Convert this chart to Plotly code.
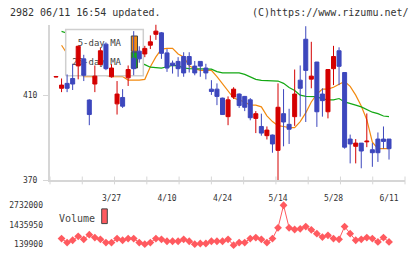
import plotly.graph_objects as go

W, H = 420, 259

# ---------------- data ----------------
tick_idx = [10, 20, 30, 40, 50, 60]
tick_labels = ["3/27", "4/10", "4/24", "5/14", "5/28", "6/11"]

opens = [418.5, 413.2, 415.5, 417.8, 423.7, 427.0, 407.7, 415.2, 424.4, 433.9,
         418.6, 405.9, 408.9, 418.1, 427.3, 430.6, 429.3, 433.4, 438.5, 439.2,
         429.8, 425.0, 425.8, 428.1, 428.1, 423.6, 425.8, 422.7, 412.8, 412.8,
         408.6, 399.9, 409.1, 410.5, 409.4, 407.8, 399.1, 395.3, 391.0, 391.3,
         384.1, 401.3, 396.3, 399.9, 417.0, 436.2, 417.5, 425.5, 410.5, 402.2,
         422.4, 430.8, 420.6, 389.4, 386.0, 387.5, 388.1, 384.4, 389.4, 389.4,
         389.4]
highs = [419.0, 417.8, 419.7, 424.7, 433.2, 428.9, 408.0, 423.9, 432.1, 434.7,
         424.5, 416.6, 412.8, 423.9, 440.0, 432.9, 433.1, 438.0, 443.1, 439.6,
         431.6, 426.2, 427.8, 430.1, 430.1, 426.0, 425.8, 424.7, 417.0, 415.5,
         408.8, 409.4, 413.7, 410.8, 409.6, 408.6, 402.5, 401.3, 395.3, 391.5,
         415.5, 412.8, 403.6, 422.0, 423.9, 442.3, 435.0, 425.6, 413.2, 422.2,
         433.1, 432.4, 420.6, 391.5, 389.4, 387.5, 401.4, 387.5, 392.5, 395.3,
         389.4]
lows = [418.3, 411.4, 411.4, 412.4, 417.4, 416.6, 395.9, 411.4, 423.8, 421.7,
        418.2, 400.9, 404.0, 414.3, 419.3, 425.2, 427.8, 431.6, 435.9, 427.0,
        420.9, 420.1, 418.6, 418.6, 420.6, 419.3, 418.6, 417.4, 410.1, 405.3,
        400.7, 395.9, 408.2, 404.0, 402.5, 398.2, 392.2, 391.0, 389.2, 383.0,
        369.5, 386.0, 387.1, 395.6, 399.9, 397.4, 413.2, 395.1, 399.9, 399.1,
        414.7, 414.7, 384.9, 378.0, 378.0, 375.7, 385.6, 376.4, 378.7, 384.9,
        379.8]
closes = [418.7, 414.7, 413.2, 415.2, 432.9, 419.3, 400.9, 418.9, 430.8, 422.4,
          422.7, 410.5, 404.8, 422.0, 422.4, 427.0, 431.9, 435.0, 440.0, 429.6,
          422.7, 423.9, 422.4, 420.4, 424.4, 420.4, 423.6, 420.4, 411.7, 409.4,
          400.9, 407.8, 412.8, 405.1, 404.3, 399.4, 401.3, 392.2, 393.6, 387.1,
          404.3, 397.4, 394.0, 410.5, 413.2, 421.6, 418.9, 402.2, 407.4, 422.0,
          428.1, 423.5, 385.6, 387.1, 387.5, 383.8, 388.4, 383.0, 383.0, 388.3,
          384.9]

ma5 = [None, 433.4, 429.3, 425.2, 421.5, 418.7, 418.7, 418.7, 420.6, 419.2,
       418.7, 418.7, 418.7, 417.0, 417.0, 417.0, 417.4, 423.3, 427.9, 431.6,
       431.9, 431.9, 429.3, 427.9, 423.8, 422.4, 421.6, 421.6, 421.6, 418.7,
       415.5, 412.3, 408.6, 407.7, 406.8, 405.3, 405.3, 404.5, 400.3, 397.6,
       395.7, 395.3, 394.8, 394.8, 397.6, 401.7, 406.8, 410.5, 412.8, 412.8,
       413.7, 415.1, 416.4, 414.1, 410.0, 404.9, 398.5, 387.9, 384.9, 384.9,
       384.9]
ma25 = [None, 439.9, 439.0, 437.6, 436.2, 435.3, 433.9, 432.5, 431.6, 430.2,
        429.3, 427.9, 427.0, 426.1, 425.6, 425.2, 424.3, 423.1, 422.9, 422.7,
        423.3, 423.9, 423.8, 422.7, 422.4, 422.4, 422.4, 422.4, 422.2, 421.0,
        420.4, 420.4, 420.4, 420.4, 419.7, 418.5, 417.4, 416.9, 416.8, 416.7,
        416.6, 415.5, 413.6, 412.2, 410.0, 409.4, 409.4, 409.3, 408.2, 407.8,
        407.8, 408.4, 406.8, 405.9, 405.3, 404.5, 403.1, 402.0, 401.3, 400.2,
        399.9]

volume = [528700, 269500, 418550, 677800, 483400, 787900, 593500, 483400, 269500, 269500,
          528700, 418550, 528700, 528700, 269500, 159300, 269500, 528700, 483400, 353700,
          353700, 353700, 483400, 353700, 159300, 204700, 204700, 353700, 353700, 353700,
          483400, 94600, 269500, 269500, 528700, 593500, 483400, 269500, 528700, 1241500,
          2732000, 1241500, 1131400, 1176700, 1325800, 1111900, 852700, 632400, 742600, 528700,
          483400, 1325800, 852700, 418550, 483400, 593500, 528700, 308400, 593500, 308400]

vol_ticks = [139900, 1435950, 2732000]
price_ticks = [370, 410]

x_idx = list(range(len(opens)))
vol_idx = list(range(1, len(volume) + 1))

# ---------------- styling / layout ----------------
RED = "#d40000"
BLUE = "#3d47bd"
ORANGE = "#f28a10"
GREEN = "#14a814"
VOLC = "#ff5a5f"
AXC = "#d6d6d6"
TXT = "#333333"
MONO = "DejaVu Sans Mono"

PX_L, PX_R = 50, 405
PY_T, PY_B = 25, 184
XR = [-1.081, 62.88]
YR = [370, 443.1]
VPY_T, VPY_B = 200, 256
VR = [139900 + (249.3 - VPY_B) * 64802, 139900 + (249.3 - VPY_T) * 64802]


def px2x(px):
    return XR[0] + (px - PX_L) / (PX_R - PX_L) * (XR[1] - XR[0])


def px2y(py):
    return YR[0] + (PY_B - py) / (PY_B - PY_T) * (YR[1] - YR[0])


xdom = [PX_L / W, PX_R / W]

fig = go.Figure()

# moving averages (main subplot, under legend box)
fig.add_trace(go.Scatter(x=x_idx, y=ma5, mode="lines", line=dict(color=ORANGE, width=1.2),
                         xaxis="x", yaxis="y", hoverinfo="skip"))
fig.add_trace(go.Scatter(x=x_idx, y=ma25, mode="lines", line=dict(color=GREEN, width=1.2),
                         xaxis="x", yaxis="y", hoverinfo="skip"))

# legend box
bx0, bx1, by0, by1 = px2x(65.7), px2x(143.3), px2y(77.3), px2y(30)
fig.add_trace(go.Scatter(x=[bx0, bx1, bx1, bx0, bx0], y=[by0, by0, by1, by1, by0],
                         mode="lines", fill="toself", fillcolor="white",
                         line=dict(color="#cfcfcf", width=1.5), xaxis="x", yaxis="y", hoverinfo="skip"))
fig.add_trace(go.Scatter(x=[px2x(121), px2x(121)], y=[px2y(45), px2y(63.5)],
                         text=["5-day MA", "25-day MA"], mode="text", textposition="middle left",
                         textfont=dict(family=MONO, size=9, color="#444"), xaxis="x", yaxis="y",
                         hoverinfo="skip"))
for (t, b, c) in [(36.7, 52.3, ORANGE), (53.3, 69.3, GREEN)]:
    sx0, sx1 = px2x(131.3), px2x(137.5)
    sy0, sy1 = px2y(b), px2y(t)
    fig.add_trace(go.Scatter(x=[sx0, sx1, sx1, sx0, sx0], y=[sy0, sy0, sy1, sy1, sy0],
                             mode="lines", fill="toself", fillcolor=c,
                             line=dict(color="#444", width=1), xaxis="x", yaxis="y", hoverinfo="skip"))

# candles (overlay subplot, drawn on top)
fig.add_trace(go.Candlestick(x=x_idx, open=opens, high=highs, low=lows, close=closes,
                             increasing=dict(line=dict(color=RED, width=1), fillcolor=RED),
                             decreasing=dict(line=dict(color=BLUE, width=1), fillcolor=BLUE),
                             whiskerwidth=0, xaxis="x2", yaxis="y2", hoverinfo="skip"))

# volume
fig.add_trace(go.Scatter(x=vol_idx, y=volume, mode="lines+markers",
                         line=dict(color=VOLC, width=1),
                         marker=dict(symbol="diamond", size=6, color=VOLC),
                         cliponaxis=False, xaxis="x3", yaxis="y3", hoverinfo="skip"))

shapes = []
# bottom axis tick marks
for k in range(12):
    xp = (PX_L + k * (PX_R - PX_L) / 11) / W
    shapes.append(dict(type="line", xref="paper", yref="paper", x0=xp, x1=xp,
                       y0=1 - 188 / H, y1=1 - 180 / H, line=dict(color=AXC, width=1)))
# volume legend swatch
shapes.append(dict(type="rect", xref="paper", yref="paper", x0=101.7 / W, x1=107.3 / W,
                   y0=1 - 228 / H, y1=1 - 213 / H, fillcolor=VOLC, line=dict(color="#444", width=1)))

annotations = [
    dict(text="2982 06/11 16:54 updated.", xref="paper", yref="paper", x=8 / W, y=1 - 12.7 / H,
         xanchor="left", yanchor="middle", showarrow=False, font=dict(family=MONO, size=10, color=TXT)),
    dict(text="(C)https://www.rizumu.net/", xref="paper", yref="paper", x=411 / W, y=1 - 12.7 / H,
         xanchor="right", yanchor="middle", showarrow=False, font=dict(family=MONO, size=10, color=TXT)),
    dict(text="Volume", xref="paper", yref="paper", x=57 / W, y=1 - 222.7 / H,
         xanchor="left", yanchor="middle", showarrow=False, font=dict(family=MONO, size=10, color="#444")),
]

fig.update_layout(
    width=W, height=H, margin=dict(l=0, r=0, t=0, b=0),
    paper_bgcolor="white", plot_bgcolor="white", showlegend=False,
    boxgap=0.15, boxgroupgap=0.15,
    xaxis=dict(domain=xdom, range=XR, anchor="y", showline=True, linecolor=AXC, linewidth=2,
               ticks="", tickmode="array", tickvals=tick_idx, ticktext=tick_labels,
               tickfont=dict(family=MONO, size=8, color=TXT), showgrid=False, zeroline=False,
               ticklabelstandoff=9, fixedrange=True),
    yaxis=dict(domain=[1 - PY_B / H, 1 - PY_T / H], range=YR, anchor="x", showline=True,
               linecolor=AXC, linewidth=2, ticks="outside", ticklen=5, tickcolor=AXC,
               tickmode="array", tickvals=price_ticks, tickfont=dict(family=MONO, size=8, color=TXT),
               showgrid=False, zeroline=False, ticklabelstandoff=4),
    xaxis2=dict(overlaying="x", range=XR, anchor="y2", visible=False,
                rangeslider=dict(visible=False)),
    yaxis2=dict(overlaying="y", range=YR, anchor="x2", visible=False),
    xaxis3=dict(domain=xdom, range=XR, anchor="y3", visible=False),
    yaxis3=dict(domain=[1 - VPY_B / H, 1 - VPY_T / H], range=VR, anchor="x3", showline=False,
                ticks="", tickmode="array", tickvals=vol_ticks,
                ticktext=[str(v) for v in vol_ticks], tickfont=dict(family=MONO, size=8, color=TXT),
                showgrid=False, zeroline=False, ticklabelstandoff=6),
    shapes=shapes, annotations=annotations,
)

fig.write_html("out.html")
